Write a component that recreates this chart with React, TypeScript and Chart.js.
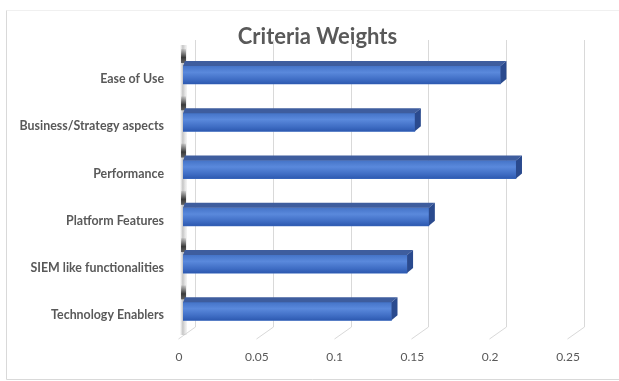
import React, { useEffect, useRef } from "react";
import { Chart, registerables } from "chart.js";

Chart.register(...registerables);

const categories = [
  "Ease of Use",
  "Business/Strategy aspects",
  "Performance",
  "Platform Features",
  "SIEM like functionalities",
  "Technology Enablers",
];
const weights = [0.204, 0.149, 0.214, 0.158, 0.144, 0.134];
const xTickLabels = ["0", "0.05", "0.1", "0.15", "0.2", "0.25"];
const xTickValues = [0, 0.05, 0.1, 0.15, 0.2, 0.25];

const DX = 6;
const DY = 5;

const decorPlugin = {
  id: "decor3d",
  beforeDraw(chart: any) {
    const ctx = chart.ctx;
    ctx.save();
    ctx.fillStyle = "#ffffff";
    ctx.fillRect(0, 0, chart.width, chart.height);
    ctx.lineWidth = 1;
    ctx.strokeStyle = "#f0f0f0";
    ctx.beginPath();
    ctx.moveTo(6.5, 10.5);
    ctx.lineTo(chart.width, 10.5);
    ctx.stroke();
    ctx.strokeStyle = "#d9d9d9";
    ctx.beginPath();
    ctx.moveTo(6.5, 10.5);
    ctx.lineTo(6.5, 379.5);
    ctx.lineTo(chart.width, 379.5);
    ctx.stroke();
    ctx.restore();
  },
  beforeDatasetsDraw(chart: any) {
    const ctx = chart.ctx;
    const xs = chart.scales.x;
    ctx.save();
    ctx.strokeStyle = "#d9d9d9";
    ctx.lineWidth = 1;
    xTickValues.forEach((v) => {
      const px = Math.round(xs.getPixelForValue(v)) + 0.5;
      ctx.beginPath();
      ctx.moveTo(px + 12, 40);
      ctx.lineTo(px + 12, 327);
      ctx.lineTo(px - 5, 339);
      ctx.stroke();
    });
    // side wall
    const x0 = xs.getPixelForValue(0);
    const wg = ctx.createLinearGradient(x0 - 3, 0, x0 + 4, 0);
    wg.addColorStop(0, "rgba(160,160,160,0)");
    wg.addColorStop(0.4, "rgba(150,150,150,0.55)");
    wg.addColorStop(1, "rgba(220,220,220,0.3)");
    ctx.fillStyle = wg;
    ctx.fillRect(x0 - 3, 45, 7, 290);
    const meta = chart.getDatasetMeta(0);
    meta.data.forEach((el: any) => {
      const { y, height } = el.getProps(["y", "height"], true);
      const top = y - height / 2;
      const bg = ctx.createLinearGradient(0, top - DY - 12, 0, top);
      bg.addColorStop(0, "rgba(40,40,40,0.1)");
      bg.addColorStop(0.5, "rgba(30,30,30,0.85)");
      bg.addColorStop(1, "rgba(60,60,60,0.6)");
      ctx.fillStyle = bg;
      ctx.fillRect(x0 - 2, top - DY - 12, 5, 14);
    });
    ctx.restore();
  },
  afterDatasetsDraw(chart: any) {
    const ctx = chart.ctx;
    const meta = chart.getDatasetMeta(0);
    ctx.save();
    meta.data.forEach((el: any) => {
      const { x, y, base, height } = el.getProps(["x", "y", "base", "height"], true);
      const top = y - height / 2;
      const bot = y + height / 2;
      const g = ctx.createLinearGradient(0, top, 0, bot);
      g.addColorStop(0, "#4574c8");
      g.addColorStop(0.35, "#5a89dc");
      g.addColorStop(0.75, "#3f6dc4");
      g.addColorStop(1, "#2d59b0");
      ctx.fillStyle = g;
      ctx.fillRect(base, top, x - base, height);
      // top face
      ctx.beginPath();
      ctx.moveTo(base, top);
      ctx.lineTo(x, top);
      ctx.lineTo(x + DX, top - DY);
      ctx.lineTo(base + 2, top - DY);
      ctx.closePath();
      ctx.fillStyle = "#3e5d9e";
      ctx.fill();
      // side face
      ctx.beginPath();
      ctx.moveTo(x, top);
      ctx.lineTo(x + DX, top - DY);
      ctx.lineTo(x + DX, bot - DY);
      ctx.lineTo(x, bot);
      ctx.closePath();
      ctx.fillStyle = "#2a4a8e";
      ctx.fill();
    });
    ctx.restore();
  },
};

export default function App() {
  const ref = useRef<HTMLCanvasElement>(null);
  useEffect(() => {
    if (!ref.current) return;
    const chart = new Chart(ref.current, {
      type: "bar",
      data: {
        labels: categories,
        datasets: [
          {
            label: "Weight",
            data: weights,
            backgroundColor: "#4472C4",
            borderWidth: 0,
            barThickness: 18,
          },
        ],
      },
      options: {
        indexAxis: "y",
        responsive: false,
        animation: false,
        layout: { padding: { left: 16, right: 0, top: 0, bottom: 16 } },
        plugins: {
          legend: { display: false },
          tooltip: { enabled: false },
          title: {
            display: true,
            text: "Criteria Weights",
            color: "#595959",
            font: { family: "Lato", size: 22, weight: "bold" },
            padding: { top: 24, bottom: 1 },
          },
        },
        scales: {
          x: {
            type: "linear",
            min: 0,
            max: 0.25,
            grid: { display: false, drawTicks: false },
            border: { display: false },
            ticks: {
              stepSize: 0.05,
              callback: (_v: any, i: number) => xTickLabels[i],
              color: "#595959",
              font: { family: "Lato", size: 12 },
              padding: 15,
              labelOffset: -4,
              maxRotation: 0,
            },
            afterFit: (s: any) => {
              s.height = 30;
            },
          },
          y: {
            type: "category",
            grid: { display: false, drawTicks: false },
            border: { display: false },
            ticks: {
              color: "#595959",
              font: { family: "Lato", size: 12.4, weight: "bold" },
              padding: 19,
              labelOffset: 4,
            },
            afterFit: (s: any) => {
              s.width = 167;
            },
          },
          yRight: {
            type: "category",
            position: "right",
            grid: { display: false, drawTicks: false },
            border: { display: false },
            ticks: { display: false },
            afterFit: (s: any) => {
              s.width = 47;
            },
          },
        },
      },
      plugins: [decorPlugin],
    });
    return () => chart.destroy();
  }, []);
  return (
    <div style={{ position: "absolute", left: 0, top: 0, width: 619, height: 381 }}>
      <canvas ref={ref} width={619} height={381} style={{ display: "block" }} />
    </div>
  );
}
